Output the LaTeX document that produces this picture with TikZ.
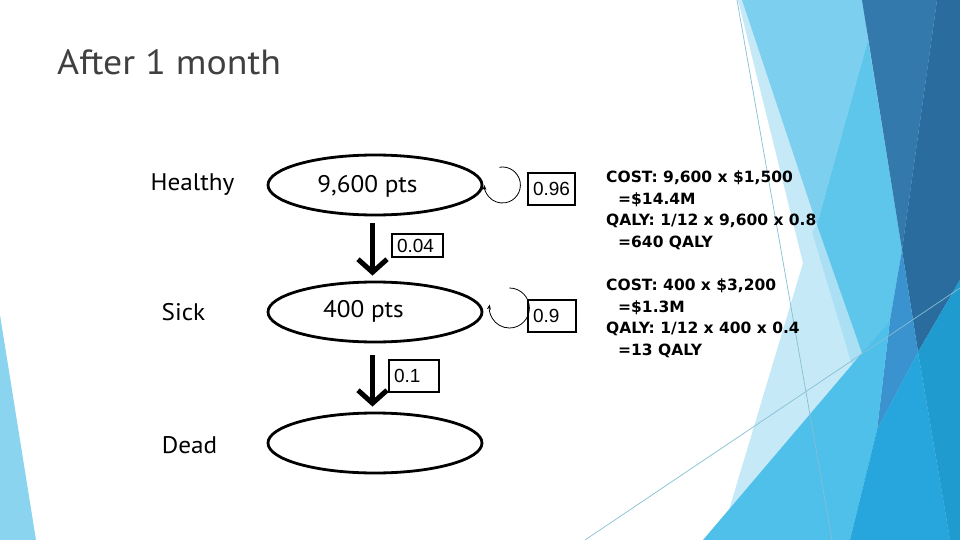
\documentclass[tikz,border=0pt]{standalone}
\usepackage{fontspec}
\setmainfont{PT Sans}
\newfontfamily\widefont[FakeStretch=1.05]{PT Sans}
\newfontfamily\titlefont[FakeStretch=1.08]{PT Sans}
\newfontfamily\numfont{Liberation Sans}
\newfontfamily\rtfont[FakeStretch=1.0]{DejaVu Sans}
\usetikzlibrary{shapes.geometric,arrows.meta}
\definecolor{vlight}{HTML}{C6E9F7}
\definecolor{lstrip}{HTML}{ABDFF4}
\definecolor{lightb}{HTML}{7DCFF0}
\definecolor{medb}{HTML}{5EC6EA}
\definecolor{darkone}{HTML}{3379AB}
\definecolor{darktwo}{HTML}{2B6C9F}
\definecolor{middark}{HTML}{3A92CE}
\definecolor{bone}{HTML}{4EC0EA}
\definecolor{bthree}{HTML}{26A6DC}
\definecolor{bfour}{HTML}{1F9BD0}
\definecolor{lefttri}{HTML}{8AD4F0}
\definecolor{thinline}{HTML}{86BFD4}
\definecolor{titlegray}{HTML}{404040}
\begin{document}
\begin{tikzpicture}[x=1pt,y=-1pt,
  state/.style={ellipse, draw, line width=2.8pt, minimum width=214pt, minimum height=60pt, inner sep=0pt},
  stext/.style={font=\widefont\fontsize{24}{28}\selectfont, inner sep=0pt},
  lab/.style={font=\widefont\fontsize{24}{28}\selectfont, anchor=base, inner sep=0pt},
  prob/.style={draw, line width=1.8pt, font=\numfont\fontsize{19}{22}\selectfont, align=left, inner xsep=5pt, inner ysep=0pt, minimum height=32pt},
  bigarrow/.style={line width=5pt, -{Straight Barb[length=13pt,width=29pt]}},
  loopline/.style={line width=0.8pt, -{Stealth[length=5pt,width=4pt]}},
  info/.style={font=\rtfont\bfseries\fontsize{15.5}{21.7}\selectfont, align=left, anchor=north west, inner sep=0pt},
]
\useasboundingbox (0,0) rectangle (960,540);
\fill[white] (0,0) rectangle (960,540);
% background facets
\fill[lefttri] (0,315) -- (0,540) -- (36,540) -- cycle;
\fill[vlight] (738,0) -- (803,263) -- (720,540) -- (960,540) -- (960,0) -- cycle;
\fill[lstrip] (812,232) -- (817,225) -- (862,353) -- (852,365) -- cycle;
\fill[lightb] (742,0) -- (863,0) -- (868,40) -- (817,225) -- cycle;
\fill[medb] (868,40) -- (817,225) -- (862,353) -- (890,320) -- (902,250) -- cycle;
\fill[darkone] (862,0) -- (937,0) -- (902,250) -- cycle;
\fill[darktwo] (937,0) -- (960,0) -- (960,280) -- (918,352) -- (902,250) -- cycle;
\fill[middark] (902,250) -- (918,352) -- (877,430) -- (890,320) -- cycle;
\fill[bone] (703,540) -- (890,320) -- (877,430) -- (850,540) -- cycle;
\fill[bthree] (850,540) -- (877,430) -- (918,352) -- (950,540) -- cycle;
\fill[bfour] (918,352) -- (960,280) -- (960,540) -- (950,540) -- cycle;
\draw[thinline, line width=0.7pt] (737,0) -- (832,540);
\draw[thinline, line width=0.7pt] (585,540) -- (960,288);
% title
\node[anchor=base west, inner sep=0pt, font=\titlefont\fontsize{35}{40}\selectfont, text=titlegray] (title) at (57,74.3) {After 1 month};
% state labels
\node[lab] (lh) at (192.5,190) {Healthy};
\node[lab] (ls) at (183.5,320) {Sick};
\node[lab] (ld) at (189.5,453) {Dead};
% states
\node[state] (h) at (375,185) {};
\node[state] (s) at (375,312) {};
\node[state] (d) at (375,443) {};
\node[stext] (ht) at (367.5,186.5) {9,600 pts};
\node[stext] (st) at (363.5,311.5) {400 pts};
% transitions
\draw[bigarrow, shorten <=7pt, shorten >=5pt] ([xshift=-2.5pt]h.south) -- ([xshift=-2.5pt]s.north);
\draw[bigarrow, shorten <=12pt, shorten >=5pt] ([xshift=-2.5pt]s.south) -- ([xshift=-2.5pt]d.north);
\draw[loopline] ([xshift=19pt]h.east) ++(-100:18) arc[start angle=-100, end angle=180, radius=18];
\draw[loopline] ([xshift=26pt,yshift=4pt]s.east) ++(-90:20) arc[start angle=-90, end angle=190, radius=20];
% probabilities
\node[prob, text width=41pt, minimum height=23pt] (p04) at (417.5,245.5) {0.04};
\node[prob, text width=37pt] (p96) at (551.5,189) {0.96};
\node[prob, text width=38pt] (p9) at (552,316) {0.9};
\node[prob, text width=40pt] (p1) at (414,376) {0.1};
% cost / QALY notes
\node[info] (c1) at (606,170.6) {COST: 9,600 x \$1,500\\\hspace*{12pt}=\$14.4M\\QALY: 1/12 x 9,600 x 0.8\\\hspace*{12pt}=640 QALY};
\node[info] (c2) at (606,278.6) {COST: 400 x \$3,200\\\hspace*{12pt}=\$1.3M\\QALY: 1/12 x 400 x 0.4\\\hspace*{12pt}=13 QALY};
\end{tikzpicture}
\end{document}
